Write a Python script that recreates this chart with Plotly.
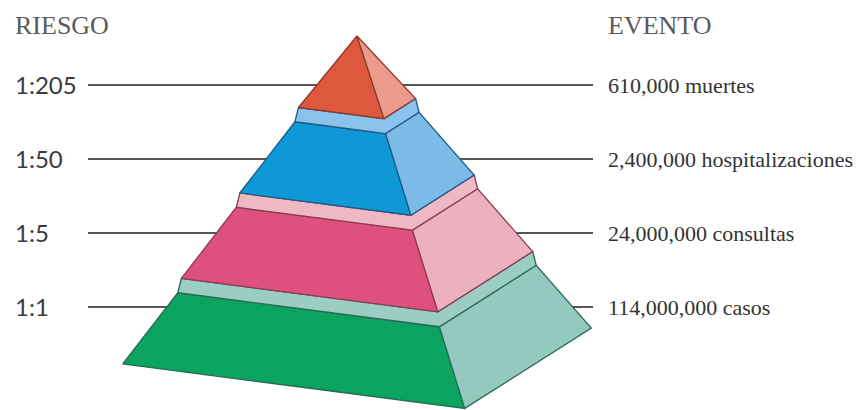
import plotly.graph_objects as go

# Pirámide de riesgo, de la cima (más grave) a la base
riesgo = ["1:205", "1:50", "1:5", "1:1"]
eventos = [610_000, 2_400_000, 24_000_000, 114_000_000]
tipo_evento = ["muertes", "hospitalizaciones", "consultas", "casos"]

# Estilo de cada nivel (mismo orden: cima -> base)
cara_frontal = ["#DE583E", "#0E98D6", "#DE507D", "#0AA460"]
cara_lateral = ["#EC9A8B", "#7CBBE8", "#ECB1BF", "#93C9BF"]
cara_superior = ["#EC9A8B", "#8AC2EC", "#EEB8C4", "#9BCDC3"]
borde = ["#8A3B2C", "#1D5B85", "#8C3A55", "#2A6A55"]

W, H = 861, 410

# Geometry of the stepped pyramid, in page pixels
CX = 357               # vertical axis of the pyramid
BASE_Y = 346           # centre of the bottom square
BASE_S = 342           # run of the front-left edge of the bottom square
TIER_H = 67            # height of one tier
TIER_STEP = 81         # distance between the bases of two tiers
TAPER = 0.235          # share of the base side lost inside one tier
EDGE = (1.0, 0.13)     # front-left edge direction per unit of side
SIDE = (0.37, -0.235)  # front-right edge direction per unit of side

# Leader lines and labels
LINE_Y0, LINE_DY = 85, 74
LINE_X0, LINE_X1 = 88, 593
LEFT_X, RIGHT_X = 13, 606


def corners(cy, s):
    """Left, front and right corners of a horizontal square section."""
    lx = CX - s * (EDGE[0] + SIDE[0]) / 2
    ly = cy - s * (EDGE[1] + SIDE[1]) / 2
    left = (lx, ly)
    front = (lx + s * EDGE[0], ly + s * EDGE[1])
    right = (front[0] + s * SIDE[0], front[1] + s * SIDE[1])
    return left, front, right


def polygon(points, fill, edge):
    xs = [p[0] for p in points] + [points[0][0]]
    ys = [p[1] for p in points] + [points[0][1]]
    return go.Scatter(
        x=xs, y=ys, mode="lines", fill="toself", fillcolor=fill,
        line=dict(color=edge, width=1.3), hoverinfo="skip", showlegend=False,
    )


n = len(riesgo)
fig = go.Figure()

# tiers from the base (last item) up to the apex (first item)
levels = []
for i in range(n):
    cy_b = BASE_Y - i * TIER_STEP
    s_b = BASE_S * (n - i) / n
    cy_t = cy_b - TIER_H
    s_t = s_b - TAPER * BASE_S if i < n - 1 else 0.0
    levels.append((corners(cy_b, s_b), corners(cy_t, max(s_t, 0.0))))

for i in range(n):
    k = n - 1 - i
    (lb, fb, rb), (lt, ft, rt) = levels[i]
    if i < n - 1:
        fig.add_trace(polygon([lb, fb, ft, lt], cara_frontal[k], borde[k]))
        fig.add_trace(polygon([fb, rb, rt, ft], cara_lateral[k], borde[k]))
        # visible ledge between this tier's top and the next tier's base
        (nl, nf, nr), _ = levels[i + 1]
        fig.add_trace(polygon([lt, ft, rt, nr, nf, nl], cara_superior[k], borde[k]))
    else:
        fig.add_trace(polygon([lb, fb, ft], cara_frontal[k], borde[k]))
        fig.add_trace(polygon([fb, rb, ft], cara_lateral[k], borde[k]))

# leader lines behind the pyramid
shapes = []
annotations = []
for k in range(n):
    y = LINE_Y0 + k * LINE_DY
    shapes.append(dict(type="line", xref="x", yref="y", layer="below",
                       x0=LINE_X0, x1=LINE_X1, y0=y, y1=y,
                       line=dict(color="#555555", width=2)))
    annotations.append(dict(x=LEFT_X, y=y - 1, xref="x", yref="y",
                            text=riesgo[k], showarrow=False,
                            xanchor="left", yanchor="middle",
                            font=dict(family="Lato", size=24, color="#3a3a3a")))
    annotations.append(dict(x=RIGHT_X, y=y, xref="x", yref="y",
                            text=f"{eventos[k]:,} {tipo_evento[k]}",
                            showarrow=False, xanchor="left", yanchor="middle",
                            font=dict(family="Liberation Serif", size=22,
                                      color="#333333")))

for txt, x in (("RIESGO", LEFT_X), ("EVENTO", RIGHT_X)):
    annotations.append(dict(x=x, y=25, xref="x", yref="y", text=txt,
                            showarrow=False, xanchor="left", yanchor="middle",
                            font=dict(family="Liberation Serif", size=26,
                                      color="#5a5a5a")))

fig.update_layout(
    width=W, height=H, margin=dict(l=0, r=0, t=0, b=0),
    paper_bgcolor="white", plot_bgcolor="white",
    xaxis=dict(range=[0, W], visible=False, fixedrange=True),
    yaxis=dict(range=[H, 0], visible=False, fixedrange=True),
    shapes=shapes, annotations=annotations, showlegend=False,
)

fig.write_html("out.html", config={"displayModeBar": False})
